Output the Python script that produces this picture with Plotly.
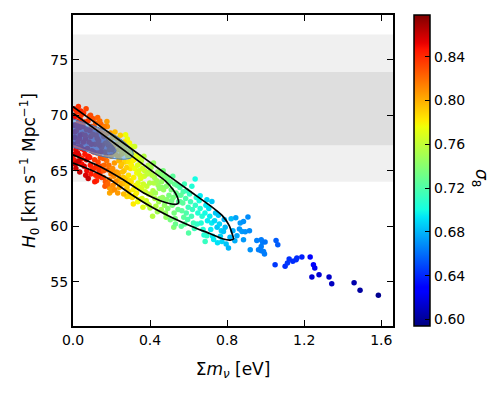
import plotly.graph_objects as go

# --- scatter samples (sum of neutrino masses, H0, sigma8) ---
mnu_core = [
    0.005, 0.012, 0.020, 0.030, 0.008, 0.018, 0.035, 0.042, 0.010, 0.025, 0.040, 0.015,
    0.030, 0.005, 0.022, 0.045, 0.048, 0.038, 0.002, 0.028, 0.012, 0.045, 0.033, 0.020,
    0.055, 0.060, 0.070, 0.065, 0.075, 0.080, 0.058, 0.090, 0.085, 0.095, 0.092, 0.072,
    0.098, 0.062, 0.083, 0.068, 0.100, 0.093,
    0.105, 0.110, 0.120, 0.115, 0.125, 0.130, 0.108, 0.140, 0.145, 0.135, 0.148, 0.118,
    0.128, 0.142, 0.112, 0.133, 0.147, 0.122,
    0.155, 0.160, 0.170, 0.165, 0.175, 0.180, 0.158, 0.190, 0.195, 0.185, 0.198, 0.168,
    0.176, 0.178, 0.190, 0.190, 0.152, 0.188, 0.162, 0.200,
    0.205, 0.210, 0.220, 0.215, 0.225, 0.230, 0.208, 0.240, 0.245, 0.235, 0.248, 0.218,
    0.238, 0.228, 0.212, 0.242, 0.250, 0.200,
    0.255, 0.260, 0.270, 0.265, 0.275, 0.280, 0.258, 0.290, 0.295, 0.285, 0.298, 0.273,
    0.282, 0.280, 0.262, 0.288, 0.268, 0.252, 0.292,
]
h0_core = [
    70.6, 69.9, 70.3, 69.5, 69.1, 68.6, 68.9, 70.0, 68.0, 67.6, 67.2, 66.9,
    66.4, 66.0, 65.8, 66.1, 68.3, 69.6, 67.4, 70.8, 65.6, 65.6, 67.9, 69.2,
    70.2, 69.4, 68.7, 67.9, 67.0, 66.3, 65.4, 65.5, 69.9, 69.0, 68.1, 65.0,
    66.8, 66.5, 67.6, 70.6, 65.1, 64.7,
    69.7, 68.9, 68.2, 67.4, 66.6, 65.8, 65.2, 64.8, 69.2, 68.6, 67.1, 64.6,
    69.8, 66.2, 66.0, 67.7, 65.4, 64.1,
    68.9, 68.1, 67.5, 66.7, 65.9, 65.1, 64.4, 64.2, 68.4, 67.8, 66.3, 64.0,
    69.44, 68.99, 63.44, 62.99, 67.3, 66.9, 65.5, 65.0,
    68.0, 67.2, 66.5, 65.7, 64.9, 64.1, 63.7, 63.5, 67.6, 66.9, 65.4, 68.5,
    65.9, 67.9, 64.5, 64.4, 66.5, 63.2,
    67.3, 66.6, 65.8, 65.0, 64.3, 63.5, 63.8, 63.1, 66.9, 66.3, 65.2, 68.24,
    67.86, 62.69, 64.4, 64.6, 67.0, 65.6, 62.7,
]
s8_core = [
    0.848, 0.843, 0.838, 0.848, 0.853, 0.840, 0.845, 0.835, 0.858, 0.848, 0.843, 0.853,
    0.858, 0.848, 0.853, 0.840, 0.835, 0.840, 0.862, 0.838, 0.858, 0.848, 0.848, 0.843,
    0.837, 0.840, 0.836, 0.845, 0.840, 0.848, 0.853, 0.845, 0.832, 0.832, 0.836, 0.850,
    0.836, 0.845, 0.840, 0.832, 0.840, 0.845,
    0.828, 0.832, 0.828, 0.832, 0.828, 0.832, 0.840, 0.836, 0.823, 0.823, 0.823, 0.840,
    0.823, 0.828, 0.836, 0.828, 0.832, 0.840,
    0.818, 0.818, 0.814, 0.818, 0.818, 0.822, 0.826, 0.814, 0.806, 0.810, 0.810, 0.826,
    0.806, 0.810, 0.806, 0.802, 0.822, 0.810, 0.822, 0.810,
    0.802, 0.806, 0.802, 0.806, 0.806, 0.806, 0.810, 0.802, 0.793, 0.797, 0.797, 0.797,
    0.797, 0.797, 0.810, 0.802, 0.793, 0.806,
    0.790, 0.793, 0.788, 0.793, 0.793, 0.793, 0.797, 0.788, 0.780, 0.784, 0.784, 0.775,
    0.775, 0.788, 0.793, 0.784, 0.784, 0.793, 0.788,
]

# extra samples filling the dense part of the cloud
mnu_fill = [
    0.003, 0.016, 0.027, 0.037, 0.044, 0.007, 0.019, 0.031, 0.047, 0.010, 0.024, 0.040,
    0.015, 0.035,
    0.052, 0.063, 0.078, 0.088, 0.057, 0.070, 0.087, 0.096, 0.066, 0.079, 0.054, 0.091,
    0.103, 0.117, 0.126, 0.138, 0.144, 0.107, 0.121, 0.134, 0.149, 0.113, 0.131, 0.139,
    0.153, 0.163, 0.173, 0.183, 0.194, 0.157, 0.172, 0.186, 0.197, 0.166, 0.181, 0.159,
    0.203, 0.214, 0.224, 0.233, 0.244, 0.206, 0.221, 0.236, 0.249, 0.216, 0.232, 0.246,
    0.254, 0.266, 0.277, 0.289, 0.299, 0.257, 0.271, 0.284, 0.296, 0.263, 0.279, 0.293,
    0.303, 0.317, 0.331, 0.346, 0.302, 0.322, 0.336, 0.349, 0.313,
    0.357, 0.372, 0.383, 0.396, 0.363, 0.388,
    0.407, 0.423, 0.442, 0.452, 0.462, 0.474, 0.487, 0.496, 0.413, 0.483,
    0.512, 0.527, 0.543, 0.557, 0.572, 0.588, 0.523,
]
h0_fill = [
    69.8, 70.5, 69.0, 68.2, 67.0, 66.5, 67.1, 65.9, 69.3, 68.5, 66.6, 70.4,
    65.2, 64.9,
    69.0, 68.2, 69.5, 68.6, 66.9, 66.0, 66.2, 67.4, 64.6, 64.3, 67.6, 70.0,
    68.3, 69.3, 67.9, 67.3, 66.7, 66.7, 65.4, 65.1, 64.4, 64.0, 64.5, 69.5,
    68.4, 69.0, 68.3, 67.3, 67.6, 66.1, 66.3, 65.5, 64.7, 63.6, 63.8, 65.0,
    66.9, 68.0, 67.4, 66.3, 66.0, 65.2, 64.0, 64.8, 63.9, 63.3, 63.0, 68.2,
    66.9, 67.6, 66.6, 65.8, 66.2, 64.9, 64.0, 63.8, 64.1, 62.9, 65.3, 67.5,
    65.5, 66.0, 64.8, 63.5, 64.0, 62.8, 62.2, 65.7, 62.0,
    63.4, 65.0, 63.6, 64.9, 61.7, 62.0,
    62.9, 64.4, 63.7, 62.5, 63.5, 64.5, 62.4, 63.9, 60.9, 60.8,
    62.3, 63.8, 62.8, 62.2, 63.1, 61.2, 59.9,
]
s8_fill = [
    0.850, 0.840, 0.845, 0.850, 0.845, 0.855, 0.850, 0.860, 0.840, 0.850, 0.855, 0.840,
    0.860, 0.860,
    0.840, 0.840, 0.835, 0.838, 0.848, 0.850, 0.846, 0.838, 0.856, 0.860, 0.845, 0.830,
    0.830, 0.825, 0.830, 0.830, 0.832, 0.838, 0.840, 0.838, 0.835, 0.845, 0.840, 0.820,
    0.820, 0.815, 0.815, 0.815, 0.808, 0.826, 0.820, 0.818, 0.815, 0.826, 0.822, 0.828,
    0.806, 0.800, 0.800, 0.802, 0.798, 0.810, 0.810, 0.804, 0.800, 0.810, 0.806, 0.790,
    0.790, 0.785, 0.786, 0.784, 0.780, 0.795, 0.795, 0.790, 0.786, 0.796, 0.790, 0.778,
    0.780, 0.776, 0.776, 0.772, 0.785, 0.780, 0.776, 0.765, 0.782,
    0.768, 0.762, 0.762, 0.755, 0.770, 0.762,
    0.755, 0.750, 0.748, 0.745, 0.742, 0.736, 0.740, 0.735, 0.756, 0.745,
    0.733, 0.728, 0.728, 0.724, 0.720, 0.720, 0.738,
]

mnu_mid = [
    0.305, 0.310, 0.320, 0.315, 0.325, 0.330, 0.308, 0.340, 0.345, 0.335, 0.348, 0.306,
    0.320, 0.312, 0.338, 0.328, 0.342,
    0.355, 0.360, 0.370, 0.365, 0.375, 0.380, 0.390, 0.385, 0.398, 0.358, 0.392, 0.368,
    0.395, 0.352,
    0.405, 0.410, 0.420, 0.415, 0.425, 0.430, 0.440, 0.435, 0.448, 0.400, 0.445, 0.418,
    0.438, 0.428,
    0.455, 0.460, 0.470, 0.465, 0.475, 0.480, 0.490, 0.485, 0.498, 0.458, 0.492, 0.468,
    0.478,
    0.505, 0.510, 0.520, 0.515, 0.525, 0.530, 0.540, 0.535, 0.548, 0.505, 0.545, 0.518,
    0.532,
    0.555, 0.560, 0.570, 0.565, 0.575, 0.580, 0.590, 0.585, 0.598, 0.562, 0.595, 0.578,
]
h0_mid = [
    66.6, 65.9, 65.2, 64.4, 63.7, 63.0, 62.6, 62.4, 66.1, 65.5, 64.6, 67.2,
    67.19, 63.3, 63.9, 66.4, 65.0,
    65.9, 65.2, 64.5, 63.8, 63.1, 62.3, 65.5, 64.7, 63.9, 62.5, 62.9, 66.3,
    61.9, 64.3,
    65.3, 64.6, 63.9, 63.2, 62.5, 61.8, 64.9, 64.1, 63.4, 61.64, 62.2, 65.7,
    61.3, 63.0,
    64.7, 64.0, 63.3, 62.6, 61.9, 61.2, 64.3, 63.6, 62.8, 61.5, 61.6, 65.0,
    62.2,
    64.0, 63.3, 62.6, 61.9, 61.2, 60.7, 63.7, 63.0, 62.2, 60.59, 61.5, 64.5,
    60.2,
    63.5, 62.8, 62.1, 61.4, 60.8, 60.2, 63.2, 62.5, 61.7, 60.0, 60.6, 63.8,
]
s8_mid = [
    0.775, 0.780, 0.775, 0.780, 0.780, 0.780, 0.785, 0.775, 0.765, 0.770, 0.770, 0.770,
    0.765, 0.780, 0.770, 0.770, 0.770,
    0.760, 0.765, 0.765, 0.765, 0.765, 0.765, 0.755, 0.760, 0.755, 0.770, 0.760, 0.755,
    0.760, 0.770,
    0.750, 0.755, 0.755, 0.755, 0.755, 0.755, 0.745, 0.750, 0.745, 0.755, 0.750, 0.745,
    0.750, 0.750,
    0.740, 0.745, 0.745, 0.745, 0.745, 0.745, 0.735, 0.740, 0.735, 0.750, 0.740, 0.735,
    0.740,
    0.730, 0.735, 0.735, 0.735, 0.735, 0.735, 0.725, 0.730, 0.725, 0.735, 0.730, 0.725,
    0.730,
    0.720, 0.725, 0.725, 0.725, 0.725, 0.725, 0.715, 0.720, 0.715, 0.725, 0.720, 0.715,
]

mnu_outer = [
    0.605, 0.610, 0.620, 0.615, 0.625, 0.630, 0.640, 0.635, 0.648, 0.634, 0.617, 0.600, 0.645,
    0.655, 0.660, 0.670, 0.665, 0.675, 0.680, 0.690, 0.685, 0.698, 0.660, 0.695, 0.686, 0.695,
    0.705, 0.710, 0.720, 0.715, 0.725, 0.740, 0.735, 0.748, 0.721, 0.730,
    0.755, 0.760, 0.770, 0.765, 0.785, 0.790, 0.773, 0.781, 0.795, 0.750,
    0.807, 0.821, 0.845, 0.851, 0.864, 0.868, 0.877, 0.885, 0.885, 0.894, 0.908, 0.916,
    0.920, 0.830, 0.815, 0.840,
    0.954, 0.963, 0.977, 0.977, 0.984, 0.977, 0.994, 0.997, 1.054, 1.063, 0.989,
]
h0_outer = [
    62.9, 62.2, 61.5, 60.9, 60.3, 59.8, 62.6, 61.9, 61.2, 64.25, 63.6, 59.39, 60.2,
    62.3, 61.6, 60.9, 60.3, 59.7, 59.2, 61.9, 61.2, 60.5, 62.75, 62.39, 58.63, 59.14,
    61.6, 60.9, 60.3, 59.7, 59.1, 61.2, 60.5, 59.9, 62.23, 58.8,
    61.0, 60.2, 59.6, 59.1, 60.6, 59.9, 58.63, 59.53, 58.40, 58.5,
    58.04, 60.68, 60.77, 59.14, 59.75, 60.29, 59.53, 60.43, 58.78, 59.50, 60.83, 59.59,
    57.88, 59.6, 59.0, 58.7,
    58.72, 57.88, 57.79, 58.18, 58.55, 58.78, 57.50, 58.58, 58.72, 58.33, 57.73,
]
s8_outer = [
    0.712, 0.715, 0.712, 0.715, 0.715, 0.715, 0.705, 0.710, 0.705, 0.700, 0.705, 0.722, 0.710,
    0.702, 0.705, 0.705, 0.705, 0.705, 0.705, 0.695, 0.700, 0.695, 0.695, 0.690, 0.712, 0.708,
    0.692, 0.695, 0.695, 0.695, 0.695, 0.685, 0.690, 0.685, 0.685, 0.695,
    0.685, 0.688, 0.688, 0.688, 0.680, 0.682, 0.688, 0.684, 0.684, 0.692,
    0.680, 0.682, 0.675, 0.676, 0.672, 0.672, 0.672, 0.670, 0.672, 0.670, 0.668, 0.668,
    0.670, 0.678, 0.680, 0.678,
    0.665, 0.665, 0.664, 0.664, 0.664, 0.664, 0.664, 0.662, 0.655, 0.655, 0.664,
]

mnu_tail = [1.049, 1.101, 1.113, 1.122, 1.141, 1.158, 1.162, 1.188, 1.231,
            1.248, 1.255, 1.240, 1.277, 1.329, 1.343, 1.459, 1.490, 1.585]
h0_tail = [56.53, 56.38, 56.68, 57.04, 56.83, 56.98, 57.14, 57.23, 57.23,
           56.53, 56.23, 55.42, 55.63, 55.42, 54.82, 54.91, 54.22, 53.77]
s8_tail = [0.645, 0.642, 0.645, 0.643, 0.642, 0.642, 0.642, 0.638, 0.630,
           0.625, 0.622, 0.615, 0.615, 0.612, 0.610, 0.605, 0.602, 0.598]

# --- 68% / 95% contours of the sample ---
c95_mnu = [0.0, 0.142, 0.297, 0.453, 0.608, 0.712, 0.775, 0.811, 0.826, 0.833,
           0.816, 0.775, 0.712, 0.608, 0.505, 0.401, 0.297, 0.193, 0.090, 0.0]
c95_h0 = [70.79, 69.01, 67.05, 65.09, 63.15, 61.85, 60.95, 60.05, 59.32, 58.85,
          58.74, 58.87, 59.32, 60.05, 60.86, 61.80, 62.93, 64.19, 65.09, 65.69]
c68_mnu = [0.0, 0.142, 0.297, 0.401, 0.479, 0.520, 0.541, 0.548,
           0.536, 0.505, 0.453, 0.365, 0.261, 0.142, 0.0]
c68_h0 = [70.20, 68.42, 66.44, 65.09, 64.10, 63.29, 62.66, 62.12,
          61.98, 62.03, 62.30, 63.02, 64.19, 65.36, 66.44]

# --- external constraint (filled ellipses) ---
ell95_mnu = [-0.118, -0.066, 0.0, 0.069, 0.142, 0.204, 0.259, 0.297, 0.313,
             0.302, 0.266, 0.225, 0.173, 0.121, 0.064, 0.0, -0.066, -0.118]
ell95_h0 = [68.87, 70.23, 69.68, 69.28, 68.83, 68.33, 67.70, 67.07, 66.53,
            66.17, 66.04, 66.08, 66.22, 66.44, 66.80, 67.12, 67.61, 68.15]
ell68_mnu = [-0.092, 0.0, 0.064, 0.126, 0.173, 0.209, 0.225, 0.209,
             0.168, 0.116, 0.064, 0.0, -0.066, -0.107]
ell68_h0 = [69.86, 69.41, 69.05, 68.51, 67.88, 67.25, 66.80, 66.49,
            66.44, 66.62, 66.94, 67.39, 67.97, 68.69]

# --- H0 bands ---
band_wide = [64.0, 77.3]
band_narrow = [67.3, 73.9]

# --- ticks ---
x_ticks = [0.0, 0.4, 0.8, 1.2, 1.6]
y_ticks = [55, 60, 65, 70, 75]
cb_ticks = [0.60, 0.64, 0.68, 0.72, 0.76, 0.80, 0.84]

mnu = mnu_core + mnu_fill + mnu_mid + mnu_outer + mnu_tail
h0 = h0_core + h0_fill + h0_mid + h0_outer + h0_tail
s8 = s8_core + s8_fill + s8_mid + s8_outer + s8_tail
assert len(mnu) == len(h0) == len(s8), (len(mnu), len(h0), len(s8))

jet = [
    [0.0, "rgb(0,0,128)"], [0.11, "rgb(0,0,255)"], [0.125, "rgb(0,0,255)"],
    [0.35, "rgb(0,230,247)"], [0.375, "rgb(21,255,226)"], [0.64, "rgb(239,255,8)"],
    [0.66, "rgb(255,236,0)"], [0.89, "rgb(255,19,0)"], [0.91, "rgb(232,0,0)"],
    [1.0, "rgb(128,0,0)"],
]

FONT = "DejaVu Sans"

fig = go.Figure()

fig.add_trace(go.Scatter(
    x=mnu, y=h0, mode="markers",
    marker=dict(size=5.5, color=s8, colorscale=jet, cmin=0.594, cmax=0.878,
                line=dict(width=0),
                colorbar=dict(
                    x=1.066, xanchor="left", xpad=0, y=0.5, yanchor="middle",
                    len=1.0, ypad=0,
                    thickness=16, outlinewidth=1.5, outlinecolor="black",
                    ticks="inside", ticklen=5, tickcolor="black",
                    tickvals=cb_ticks, ticktext=[f"{v:.2f}" for v in cb_ticks],
                    tickfont=dict(family=FONT, size=14, color="black"),
                )),
    showlegend=False, hoverinfo="skip",
))

fig.add_trace(go.Scatter(
    x=ell95_mnu, y=ell95_h0, mode="lines", fill="toself",
    line=dict(color="rgba(50,115,190,0.85)", width=1, shape="spline", smoothing=0.8),
    fillcolor="rgba(100,170,235,0.6)", showlegend=False, hoverinfo="skip",
))
fig.add_trace(go.Scatter(
    x=ell68_mnu, y=ell68_h0, mode="lines", fill="toself",
    line=dict(color="rgba(30,50,160,0.3)", width=0.5, shape="spline", smoothing=0.8),
    fillcolor="rgba(30,50,170,0.45)", showlegend=False, hoverinfo="skip",
))

for cx, cy in [(c95_mnu, c95_h0), (c68_mnu, c68_h0)]:
    fig.add_trace(go.Scatter(
        x=cx, y=cy, mode="lines",
        line=dict(color="black", width=1.7, shape="spline", smoothing=0.6),
        showlegend=False, hoverinfo="skip",
    ))

fig.add_shape(type="rect", xref="paper", x0=0, x1=1, yref="y",
              y0=band_wide[0], y1=band_wide[1], fillcolor="#f0f0f0",
              line=dict(width=0), layer="below")
fig.add_shape(type="rect", xref="paper", x0=0, x1=1, yref="y",
              y0=band_narrow[0], y1=band_narrow[1], fillcolor="#dedede",
              line=dict(width=0), layer="below")

fig.add_annotation(
    x=1.272, y=0.476, xref="paper", yref="paper", showarrow=False,
    xanchor="center", yanchor="middle",
    text="<i>σ</i><sub>8</sub>", textangle=90,
    font=dict(family=FONT, size=17, color="black"),
)

axis_common = dict(
    showline=True, linecolor="black", linewidth=2, mirror="ticks",
    ticks="inside", ticklen=6, tickwidth=1, tickcolor="black",
    showgrid=False, zeroline=False, automargin=False,
    tickfont=dict(family=FONT, size=14, color="black"),
)

fig.update_xaxes(
    range=[0, 1.661], tickvals=x_ticks, ticktext=[f"{v:.1f}" for v in x_ticks],
    title=dict(text="Σ<i>m</i><sub><i>ν</i></sub> [eV]", standoff=16,
               font=dict(family=FONT, size=17, color="black")),
    **axis_common,
)
fig.update_yaxes(
    range=[51.0, 79.05], tickvals=y_ticks,
    title=dict(text="<i>H</i><sub>0</sub> [km s<sup>−1</sup> Mpc<sup>−1</sup>]",
               standoff=10, font=dict(family=FONT, size=17, color="black")),
    **axis_common,
)

# the page body adds an 8 px offset, so the figure is sized to fit the window
fig.update_layout(
    width=494, height=385,
    margin=dict(l=65, r=109, t=7, b=67, autoexpand=False),
    plot_bgcolor="white", paper_bgcolor="white",
    font=dict(family=FONT, color="black"),
)

fig.write_html("out.html")
